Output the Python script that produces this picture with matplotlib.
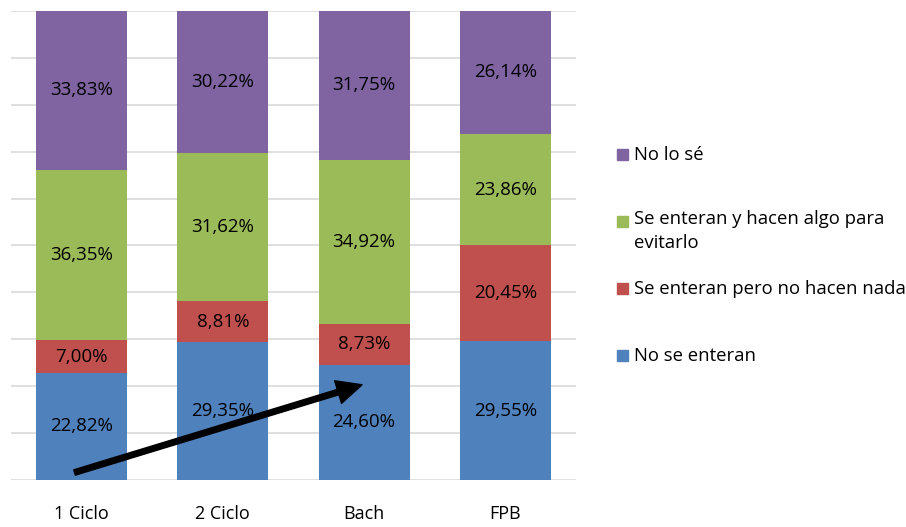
import numpy as np
import matplotlib.pyplot as plt
from matplotlib.patches import Rectangle

# percentages per stage, bottom to top of each stack
categories = ['1 Ciclo', '2 Ciclo', 'Bach', 'FPB']
no_se_enteran = [22.82, 29.35, 24.60, 29.55]
no_hacen_nada = [7.00, 8.81, 8.73, 20.45]
hacen_algo = [36.35, 31.62, 34.92, 23.86]
no_lo_se = [33.83, 30.22, 31.75, 26.14]

series = [
    ('No se enteran', no_se_enteran, '#4F81BD'),
    ('Se enteran pero no hacen nada', no_hacen_nada, '#C0504D'),
    ('Se enteran y hacen algo para\nevitarlo', hacen_algo, '#9BBB59'),
    ('No lo sé', no_lo_se, '#8064A2'),
]

plt.rcParams['font.family'] = ['Open Sans', 'DejaVu Sans']

fig = plt.figure(figsize=(9.06, 5.27), dpi=100)
ax = fig.add_axes([11 / 906, 1 - 480 / 527, 565 / 906, 469 / 527])

x = np.arange(len(categories))
bottom = np.zeros(len(categories))
for name, vals, col in series:
    vals = np.array(vals)
    ax.bar(x, vals, 0.645, bottom=bottom, color=col, zorder=2)
    for xi, b, v in zip(x, bottom, vals):
        ax.text(xi, b + v / 2, f'{v:.2f}%'.replace('.', ','),
                ha='center', va='center', fontsize=13.5, color='black', zorder=3)
    bottom += vals

ax.set_xlim(-0.5, len(categories) - 0.5)
ax.set_ylim(0, 100)
ax.set_yticks(np.arange(0, 101, 10))
ax.set_yticklabels([])
ax.tick_params(axis='y', length=0)
ax.tick_params(axis='x', length=0, pad=18, labelsize=13)
ax.set_xticks(x)
ax.set_xticklabels(categories)
ax.grid(axis='y', color='#D9D9D9', linewidth=1.2, zorder=0)
for s in ax.spines.values():
    s.set_visible(False)

# trend arrow across the blue segments
ax.annotate('', xy=(1.985, 20.3), xytext=(-0.05, 1.6),
            arrowprops=dict(width=4, headwidth=17, headlength=18,
                            facecolor='black', edgecolor='black', shrink=0),
            zorder=4)

# legend drawn by hand, top entry first
legend_y = [155, 222, 289, 356]
for (name, vals, col), py in zip(series[::-1], legend_y):
    fig.patches.append(Rectangle((617 / 906, 1 - (py + 5) / 527), 11 / 906, 11 / 527,
                                 transform=fig.transFigure, color=col))
    fig.text(634 / 906, 1 - py / 527, name, ha='left', va='center',
             fontsize=13.3, linespacing=1.45)

# the two-line entry sits with its first line level with the square
fig.texts[1].set_verticalalignment('top')
fig.texts[1].set_position((634 / 906, 1 - (222 - 12) / 527))

fig.savefig('out.png', dpi=100)
